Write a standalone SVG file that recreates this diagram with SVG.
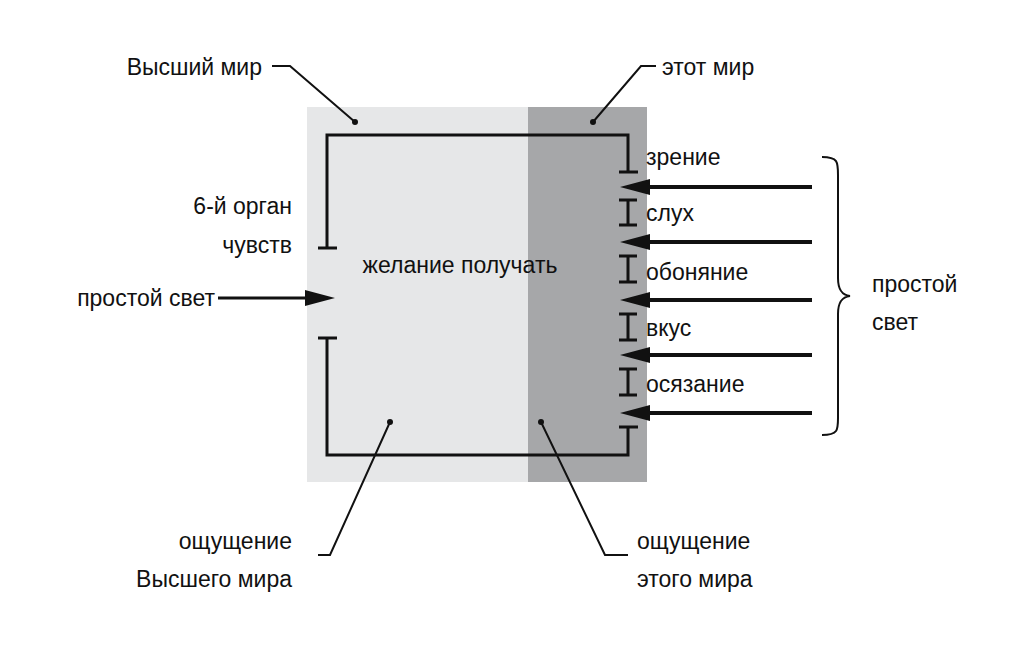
<svg xmlns="http://www.w3.org/2000/svg" width="1024" height="645" viewBox="0 0 1024 645">
<defs>
<style>
text{font-family:"Liberation Sans",Arial,sans-serif;font-size:23px;fill:#111}
.f{stroke:#111;stroke-width:3;fill:none}
.l{stroke:#111;stroke-width:2;fill:none}
.a{stroke:#111;stroke-width:4;fill:none}
.h{fill:#111}
</style>
</defs>
<rect width="1024" height="645" fill="#fff"/>
<g id="higher"><rect x="307" y="107" width="221" height="375" fill="#e6e7e8"/></g>
<g id="this"><rect x="528" y="107" width="119" height="375" fill="#a6a7a9"/></g>
<g id="frame">
<path class="f" d="M327,248V135H628V172M327,338V455H628V427"/>
<path class="f" d="M318,248H337M318,338H337M619,172H638M619,427H638"/>
<path class="f" d="M628,200V225M619,200H637M619,225H637M628,256V282M619,256H637M619,282H637M628,314V340M619,314H637M619,340H637M628,369V395M619,369H637M619,395H637"/>
</g>
<g id="desire"><text x="460" y="273" text-anchor="middle">желание получать</text></g>
<g id="labels">
<text x="262" y="75" text-anchor="end">Высший мир</text>
<text x="662" y="75">этот мир</text>
<text x="292" y="214" text-anchor="end">6-й  орган</text>
<text x="292" y="253" text-anchor="end">чувств</text>
<text x="215" y="306" text-anchor="end">простой свет</text>
<text x="646" y="165">зрение</text>
<text x="646" y="221">слух</text>
<text x="646" y="280">обоняние</text>
<text x="646" y="336">вкус</text>
<text x="646" y="392">осязание</text>
<text x="872" y="292">простой</text>
<text x="872" y="330">свет</text>
<text x="292" y="549" text-anchor="end">ощущение</text>
<text x="292" y="587" text-anchor="end">Высшего мира</text>
<text x="637" y="549">ощущение</text>
<text x="637" y="587">этого мира</text>
</g>
<g id="connectors">
<path class="f" d="M218,298H310"/>
<path class="h" d="M305,290L335,298L305,306z"/>
<path class="a" d="M812,187H640M812,242H640M812,300H640M812,355H640M812,413H640"/>
<path class="h" d="M620,187L650,179L650,195zM620,242L650,234L650,250zM620,300L650,292L650,308zM620,355L650,347L650,363zM620,413L650,405L650,421z"/>
<path class="l" d="M272,66H290L355,122"/>
<path class="l" d="M656,66H641L593,122"/>
<path class="l" d="M390,422L330,555H318"/>
<path class="l" d="M541,422L605,555H628"/>
<circle cx="355" cy="122" r="3" fill="#111"/>
<circle cx="593" cy="122" r="3" fill="#111"/>
<circle cx="390" cy="422" r="3" fill="#111"/>
<circle cx="541" cy="422" r="3" fill="#111"/>
<path class="l" d="M822,157C838,157 838,162 838,175V278C838,290 842,295 850,296C842,297 838,302 838,314V418C838,430 838,435 822,435"/>
</g>
</svg>
